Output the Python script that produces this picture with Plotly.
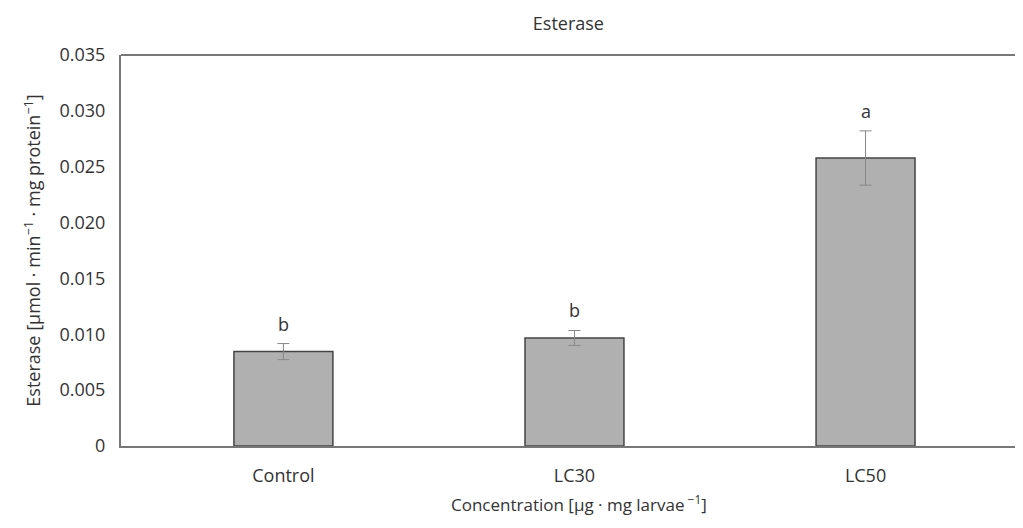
import plotly.graph_objects as go

categories = ["Control", "LC30", "LC50"]
values = [0.00845, 0.00967, 0.02578]
errors = [0.00072, 0.00067, 0.00243]
letters = ["b", "b", "a"]
y_ticks = [0, 0.005, 0.010, 0.015, 0.020, 0.025, 0.030, 0.035]
y_tick_labels = ["0", "0.005", "0.010", "0.015", "0.020", "0.025", "0.030", "0.035"]

FONT = "Open Sans"
TXT = "#333333"
FS = 18

fig = go.Figure()
fig.add_trace(go.Bar(
    x=categories, y=values, width=0.34,
    marker=dict(color="#b0b0b0", line=dict(color="#444444", width=1.5)),
    error_y=dict(type="data", array=errors, visible=True, color="#888888",
                 thickness=1, width=6),
    showlegend=False,
))

for c, v, e, l in zip(categories, values, errors, letters):
    fig.add_annotation(x=c, y=v + e, text=l, showarrow=False, yanchor="bottom",
                       yshift=6, font=dict(family=FONT, size=FS, color=TXT))

fig.add_annotation(x=0.508, y=-0.148, xref="paper", yref="paper",
                   text="Concentration [μg · mg larvae<sup> −1</sup>]",
                   showarrow=False, yanchor="middle", xanchor="center",
                   font=dict(family=FONT, size=17, color=TXT))

fig.update_layout(
    width=1015, height=512,
    margin=dict(l=113, r=0, t=47, b=74),
    plot_bgcolor="white", paper_bgcolor="white",
    font=dict(family=FONT, size=FS, color=TXT),
    title=dict(text="Esterase", xref="paper", x=0.496, xanchor="center",
               y=0.969, yanchor="middle",
               font=dict(family=FONT, size=FS, color=TXT)),
)
fig.update_xaxes(
    range=[-0.558, 2.541], showline=True, linecolor="#777777", linewidth=2,
    mirror=False, ticks="", ticklabelstandoff=12, showgrid=False,
    tickfont=dict(family=FONT, size=FS, color=TXT),
)
fig.update_yaxes(
    range=[0, 0.035], tickvals=y_ticks, ticktext=y_tick_labels,
    showline=True, linecolor="#777777", linewidth=2, ticks="",
    ticklabelstandoff=10, showgrid=False, zeroline=False,
    tickfont=dict(family=FONT, size=FS, color=TXT),
    title=dict(text="Esterase [μmol · min<sup>−1</sup> · mg protein<sup>−1</sup>]",
               font=dict(family=FONT, size=FS, color=TXT), standoff=14),
)
# top frame line
fig.add_shape(type="line", xref="paper", yref="paper", x0=0, x1=1, y0=1, y1=1,
              line=dict(color="#777777", width=2))

fig.write_html("out.html")
